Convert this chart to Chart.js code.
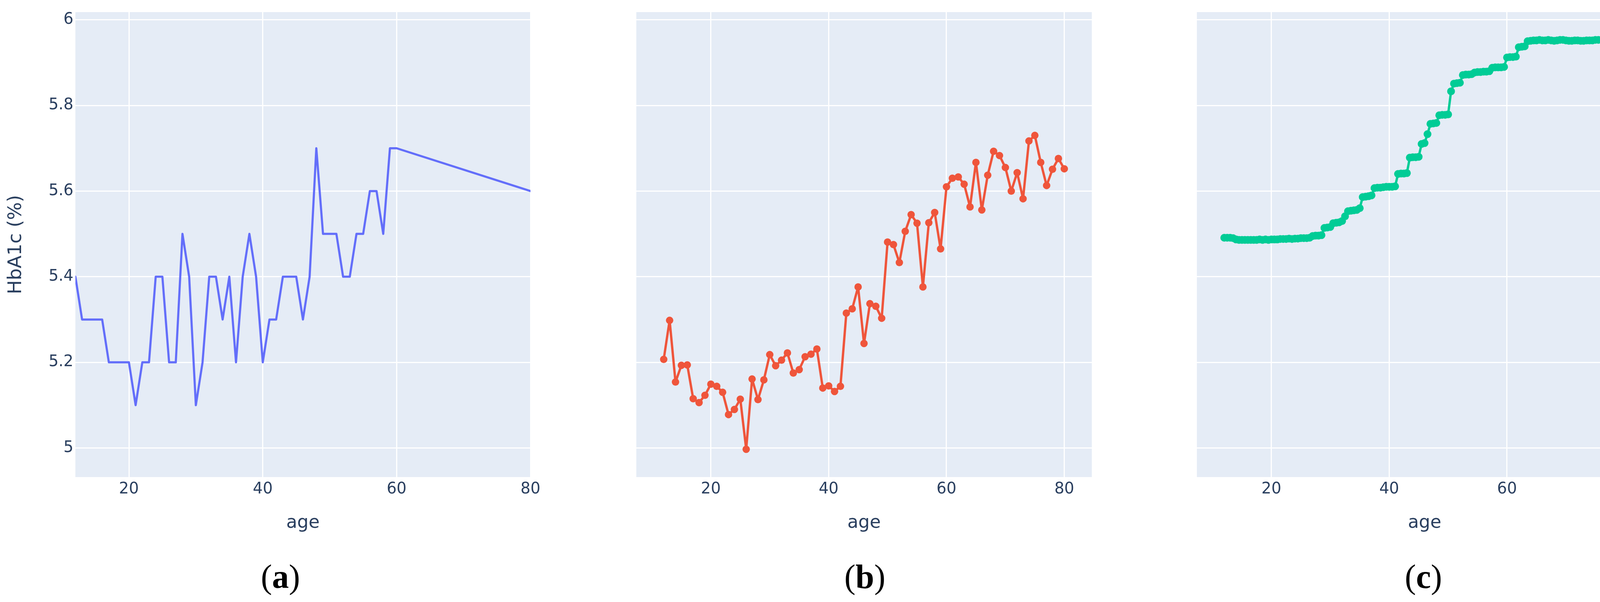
<!DOCTYPE html>
<html>
<head>
<meta charset="utf-8">
<script src="https://cdn.jsdelivr.net/npm/chart.js@4.4.1/dist/chart.umd.min.js"></script>
<style>
    html, body { margin: 0; padding: 0; background: #ffffff; }
    #page { position: relative; width: 4256px; height: 1542px; overflow: hidden; }
    #page canvas { position: absolute; top: 0; }
    .panel-label {
        position: absolute;
        font-family: "Liberation Serif", "Times New Roman", serif;
        font-size: 86px;
        line-height: 1;
        color: #000;
        white-space: nowrap;
        transform: translate(-50%, -50%);
    }
</style>
</head>
<body>
<div id="page">
    <canvas id="chart-a" width="1430" height="1542" style="left:0px"></canvas>
    <canvas id="chart-b" width="1298" height="1542" style="left:1569px"></canvas>
    <canvas id="chart-c" width="1252" height="1542" style="left:3004px"></canvas>
    <div class="panel-label" style="left:718px; top:1477px">(<b>a</b>)</div>
    <div class="panel-label" style="left:2214px; top:1477px">(<b>b</b>)</div>
    <div class="panel-label" style="left:3644px; top:1477px">(<b>c</b>)</div>
</div>
<script>
// Panel (a): median HbA1c per age (no markers)
const agesA = [12, 13, 14, 15, 16, 17, 18, 19, 20, 21, 22, 23, 24, 25, 26, 27, 28, 29, 30, 31,
    32, 33, 34, 35, 36, 37, 38, 39, 40, 41, 42, 43, 44, 45, 46, 47, 48, 49, 50, 51,
    52, 53, 54, 55, 56, 57, 58, 59, 60, 80];
const hba1cA = [5.4, 5.3, 5.3, 5.3, 5.3, 5.2, 5.2, 5.2, 5.2, 5.1, 5.2, 5.2, 5.4, 5.4, 5.2, 5.2, 5.5, 5.4, 5.1, 5.2,
    5.4, 5.4, 5.3, 5.4, 5.2, 5.4, 5.5, 5.4, 5.2, 5.3, 5.3, 5.4, 5.4, 5.4, 5.3, 5.4, 5.7, 5.5, 5.5, 5.5,
    5.4, 5.4, 5.5, 5.5, 5.6, 5.6, 5.5, 5.7, 5.7, 5.6];

// Panel (b): mean HbA1c per age
const agesB = [12, 13, 14, 15, 16, 17, 18, 19, 20, 21, 22, 23, 24, 25, 26, 27, 28, 29, 30, 31,
    32, 33, 34, 35, 36, 37, 38, 39, 40, 41, 42, 43, 44, 45, 46, 47, 48, 49, 50, 51,
    52, 53, 54, 55, 56, 57, 58, 59, 60, 61, 62, 63, 64, 65, 66, 67, 68, 69, 70, 71,
    72, 73, 74, 75, 76, 77, 78, 79, 80];
const hba1cB = [5.207, 5.298, 5.154, 5.193, 5.194, 5.115, 5.106, 5.123, 5.149, 5.144,
    5.130, 5.078, 5.090, 5.114, 4.997, 5.161, 5.113, 5.159, 5.218, 5.192,
    5.205, 5.222, 5.175, 5.183, 5.213, 5.219, 5.231, 5.140, 5.145, 5.132,
    5.144, 5.315, 5.325, 5.376, 5.244, 5.337, 5.331, 5.303, 5.481, 5.475,
    5.433, 5.506, 5.545, 5.525, 5.376, 5.526, 5.550, 5.465, 5.610, 5.630,
    5.633, 5.616, 5.563, 5.667, 5.556, 5.637, 5.693, 5.683, 5.655, 5.600,
    5.643, 5.582, 5.717, 5.730, 5.667, 5.613, 5.651, 5.676, 5.652];

// Panel (c): smoothed HbA1c, sampled every half year from 12 to 80
const agesC = Array.from({ length: 137 }, (_, i) => 12 + i * 0.5);
const hba1cC = [5.491, 5.491, 5.491, 5.490, 5.487, 5.486, 5.486, 5.486, 5.486, 5.486,
    5.486, 5.486, 5.487, 5.486, 5.487, 5.486, 5.487, 5.487, 5.487, 5.488,
    5.488, 5.488, 5.489, 5.488, 5.489, 5.489, 5.490, 5.490, 5.490, 5.491,
    5.495, 5.496, 5.496, 5.497, 5.514, 5.515, 5.516, 5.525, 5.526, 5.527,
    5.530, 5.541, 5.553, 5.554, 5.555, 5.556, 5.560, 5.586, 5.587, 5.588,
    5.590, 5.607, 5.608, 5.608, 5.609, 5.610, 5.610, 5.610, 5.611, 5.640,
    5.641, 5.641, 5.642, 5.678, 5.679, 5.679, 5.680, 5.710, 5.712, 5.733,
    5.757, 5.758, 5.759, 5.777, 5.778, 5.778, 5.779, 5.833, 5.851, 5.852,
    5.853, 5.871, 5.872, 5.872, 5.873, 5.877, 5.878, 5.878, 5.879, 5.879,
    5.880, 5.888, 5.889, 5.889, 5.889, 5.890, 5.912, 5.913, 5.913, 5.914,
    5.936, 5.937, 5.938, 5.950, 5.951, 5.952, 5.952, 5.953, 5.952, 5.952,
    5.953, 5.952, 5.951, 5.952, 5.953, 5.953, 5.952, 5.951, 5.951, 5.952,
    5.952, 5.951, 5.951, 5.952, 5.952, 5.952, 5.953, 5.953, 5.953, 5.954,
    5.954, 5.954, 5.954, 5.955, 5.955, 5.955, 5.955];

const xTickStep = 20;
const yTickStep = 0.2;
const yRange = [4.932, 6.018];

const TEXT_COLOR = '#2a3f5f';
const FONT = '"DejaVu Sans", Verdana, sans-serif';

// paints the plotly-like blue-grey plot background
const plotBackground = {
    id: 'plotBackground',
    beforeDraw(chart) {
        const { ctx, chartArea } = chart;
        ctx.save();
        ctx.fillStyle = '#E5ECF6';
        ctx.fillRect(chartArea.left, chartArea.top, chartArea.width, chartArea.height);
        ctx.restore();
    }
};

function toPoints(xs, ys) {
    return xs.map((x, i) => ({ x: x, y: ys[i] }));
}

/**
 * Build one panel. leftSpace = room reserved for the y axis,
 * so the plot area lands where it sits in the original figure.
 */
function makePanel(canvasId, opts) {
    const ctx = document.getElementById(canvasId).getContext('2d');
    return new Chart(ctx, {
        type: 'line',
        data: {
            datasets: [{
                data: toPoints(opts.xs, opts.ys),
                borderColor: opts.color,
                backgroundColor: opts.color,
                borderWidth: opts.lineWidth,
                borderJoinStyle: 'round',
                borderCapStyle: 'round',
                pointRadius: opts.pointRadius,
                pointBorderWidth: 0,
                pointBackgroundColor: opts.color,
                tension: 0,
                fill: false
            }]
        },
        options: {
            responsive: false,
            devicePixelRatio: 1,
            animation: false,
            layout: { padding: { left: 0, top: 31, right: opts.rightPad, bottom: 174 } },
            plugins: { legend: { display: false }, tooltip: { enabled: false } },
            scales: {
                x: {
                    type: 'linear',
                    min: opts.xRange[0],
                    max: opts.xRange[1],
                    afterFit: s => { s.height = 146; },
                    grid: { color: '#ffffff', lineWidth: 3, drawTicks: false },
                    border: { display: false },
                    ticks: {
                        stepSize: xTickStep,
                        includeBounds: false,
                        maxRotation: 0,
                        padding: 8,
                        color: TEXT_COLOR,
                        font: { family: FONT, size: 40 }
                    },
                    title: {
                        display: true,
                        text: 'age',
                        color: TEXT_COLOR,
                        padding: 0,
                        font: { family: FONT, size: 46 }
                    }
                },
                y: {
                    min: yRange[0],
                    max: yRange[1],
                    afterFit: s => { s.width = opts.leftSpace; },
                    grid: { color: '#ffffff', lineWidth: 3, drawTicks: false },
                    border: { display: false },
                    ticks: {
                        display: opts.yLabels,
                        stepSize: yTickStep,
                        includeBounds: false,
                        padding: 5,
                        color: TEXT_COLOR,
                        font: { family: FONT, size: 40 },
                        callback: v => String(Math.round(v * 10) / 10)
                    },
                    title: {
                        display: opts.yLabels,
                        text: 'HbA1c (%)',
                        color: TEXT_COLOR,
                        padding: { top: 13, bottom: 0 },
                        font: { family: FONT, size: 48 }
                    }
                }
            }
        },
        plugins: [plotBackground]
    });
}

makePanel('chart-a', {
    xs: agesA, ys: hba1cA, color: '#636EFA', lineWidth: 5.5, pointRadius: 0,
    xRange: [12, 80], leftSpace: 193, rightPad: 72, yLabels: true
});
makePanel('chart-b', {
    xs: agesB, ys: hba1cB, color: '#EF553B', lineWidth: 6, pointRadius: 9.5,
    xRange: [7.35, 84.67], leftSpace: 60, rightPad: 72, yLabels: false
});
makePanel('chart-c', {
    xs: agesC, ys: hba1cC, color: '#00CC96', lineWidth: 6, pointRadius: 10,
    xRange: [7.35, 84.67], leftSpace: 60, rightPad: 26, yLabels: false
});
</script>
</body>
</html>
